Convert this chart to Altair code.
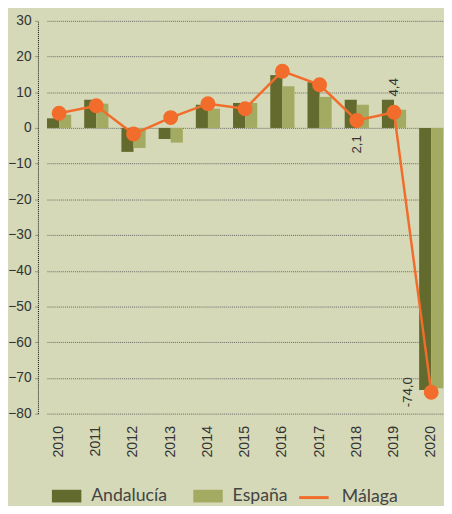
import altair as alt
import pandas as pd

years = ["2010", "2011", "2012", "2013", "2014", "2015", "2016", "2017", "2018", "2019", "2020"]
andalucia = [2.7, 7.9, -6.7, -3.1, 6.5, 7.0, 14.8, 12.8, 7.9, 7.9, -73.4]
espana = [3.7, 6.8, -5.6, -4.1, 5.4, 7.0, 11.7, 8.7, 6.5, 5.1, -72.9]
malaga = [4.1, 6.2, -1.7, 2.9, 6.8, 5.4, 15.9, 12.1, 2.1, 4.4, -74.0]
label_years = ["2018", "2019", "2020"]
label_texts = ["2,1", "4,4", "-74,0"]

bar_series = ["Andalucía", "España"]
bar_colors = ["#636a2e", "#a3aa62"]
line_series = ["Málaga"]
line_color = "#f26c2b"
bg = "#d5d9b7"

bar_df = pd.DataFrame({
    "year": years * 2,
    "series": [bar_series[0]] * len(years) + [bar_series[1]] * len(years),
    "value": andalucia + espana,
})
line_df = pd.DataFrame({"year": years, "series": line_series * len(years), "value": malaga})
lab_df = pd.DataFrame({
    "year": label_years,
    "text": label_texts,
    "value": [malaga[years.index(y)] for y in label_years],
})

x_enc = alt.X(
    "year:N",
    scale=alt.Scale(domain=years, range=[9.2, 412.8], paddingInner=0.35, paddingOuter=0),
    axis=alt.Axis(title=None, labelAngle=270, labelFont="Liberation Sans", labelFontSize=14.5,
                  labelColor="#333333", labelPadding=12, ticks=False, domain=False,
                  grid=False),
)
y_enc = alt.Y(
    "value:Q",
    scale=alt.Scale(domain=[-80, 30], nice=False, zero=False),
    axis=alt.Axis(title=None, values=list(range(-80, 31, 10)), labelFont="Liberation Sans",
                  labelFontSize=14, labelColor="#333333", labelPadding=4, tickSize=3,
                  tickColor="#555555", tickDash=[1, 1], domainColor="#111111",
                  domainDash=[1, 1], grid=True, gridColor="#666666", gridDash=[1, 1],
                  gridWidth=1),
)

leg_common = dict(title=None, orient="none", direction="horizontal", labelFont="Lato",
                  labelFontSize=18, labelColor="#444444", symbolSize=900,
                  columnPadding=26, padding=0)
fill_enc = alt.Fill(
    "series:N", scale=alt.Scale(domain=bar_series, range=bar_colors),
    legend=alt.Legend(legendX=14.2, legendY=469, symbolType="M-1,-0.43H1V0.43H-1Z",
                      symbolStrokeWidth=0, symbolOpacity=1, labelOffset=10, **leg_common),
)
stroke_enc = alt.Stroke(
    "series:N", scale=alt.Scale(domain=line_series, range=[line_color]),
    legend=alt.Legend(legendX=264.5, legendY=469, symbolType="stroke",
                      symbolStrokeWidth=3, labelOffset=12, **leg_common),
)

bars = alt.Chart(bar_df).mark_bar(opacity=1).encode(
    x=x_enc,
    xOffset=alt.XOffset("series:N", scale=alt.Scale(domain=bar_series, paddingInner=0, paddingOuter=0)),
    y=y_enc,
    fill=fill_enc,
)
line = alt.Chart(line_df).mark_line(strokeWidth=2.5).encode(x=x_enc, y=y_enc, stroke=stroke_enc)
dots = alt.Chart(line_df).mark_circle(size=230, opacity=1, color=line_color).encode(x=x_enc, y=y_enc)

txt_style = dict(angle=270, baseline="middle", font="Liberation Sans", fontSize=13.5, color="#333333")
t1 = alt.Chart(lab_df).transform_filter(alt.datum.year == "2018").mark_text(
    align="right", dx=-15, **txt_style).encode(x=x_enc, y=y_enc, text="text:N")
t2 = alt.Chart(lab_df).transform_filter(alt.datum.year == "2019").mark_text(
    align="left", dx=16, **txt_style).encode(x=x_enc, y=y_enc, text="text:N")
t3 = alt.Chart(lab_df).transform_filter(alt.datum.year == "2020").mark_text(
    align="center", dy=-23.5, **txt_style).encode(x=x_enc, y=y_enc, text="text:N")

chart = alt.layer(bars, line, dots, t1, t2, t3).properties(
    width=413.5, height=400,
    autosize=alt.AutoSizeParams(type="none"),
    padding={"left": 30.5, "top": 8.5, "right": 0, "bottom": 89},
    background=bg,
).resolve_scale(fill="independent", stroke="independent").configure_view(stroke=None)

chart.save("out.html", embed_options={"renderer": "svg", "actions": False})
